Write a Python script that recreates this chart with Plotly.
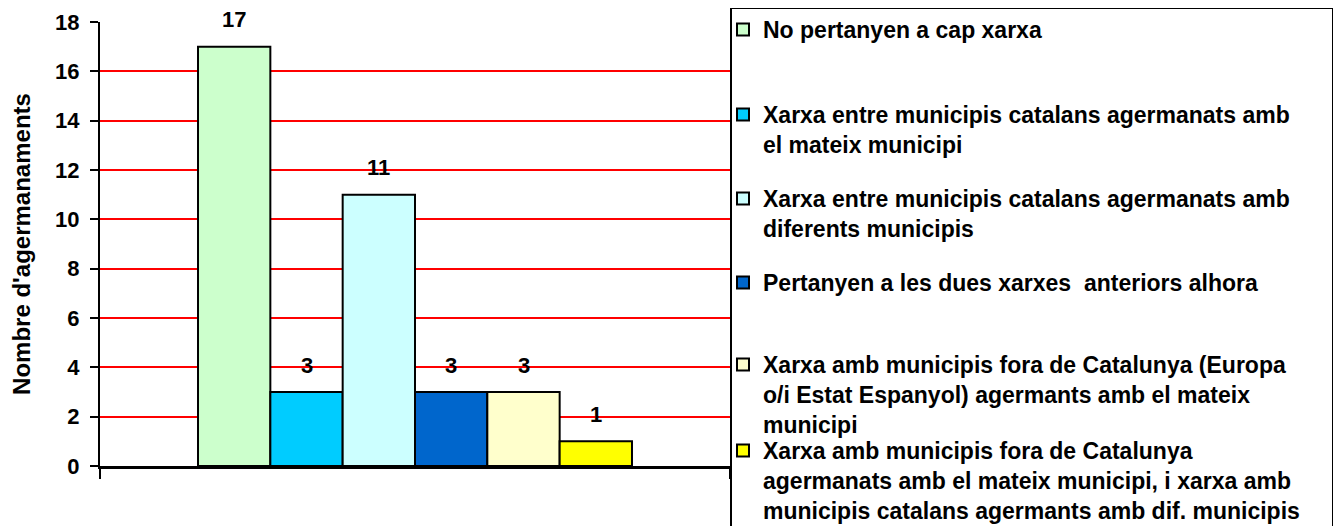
import plotly.graph_objects as go

# ---------------------------------------------------------
# Data
# ---------------------------------------------------------
categories = [
    "No pertanyen a cap xarxa",
    "Xarxa entre municipis catalans agermanats amb<br>el mateix municipi",
    "Xarxa entre municipis catalans agermanats amb<br>diferents municipis",
    "Pertanyen a les dues xarxes  anteriors alhora",
    "Xarxa amb municipis fora de Catalunya (Europa<br>o/i Estat Espanyol) agermants amb el mateix<br>municipi",
    "Xarxa amb municipis fora de Catalunya<br>agermanats amb el mateix municipi, i xarxa amb<br>municipis catalans agermants amb dif. municipis",
]
values = [17, 3, 11, 3, 3, 1]
colors = ["#CCFFCC", "#00CCFF", "#CCFFFF", "#0066CC", "#FFFFCC", "#FFFF00"]
y_ticks = [0, 2, 4, 6, 8, 10, 12, 14, 16, 18]

FONT = "Liberation Sans, Arial, sans-serif"

# ---------------------------------------------------------
# Geometry (screen px; the page body adds an 8px margin)
# ---------------------------------------------------------
BODY = 8
W, H = 1341 - BODY, 526 - BODY
PLOT_L, PLOT_R, PLOT_T, PLOT_B = 100, 730, 22, 466
PW, PH = PLOT_R - PLOT_L, PLOT_B - PLOT_T


def fx(px):
    return (px - PLOT_L) / PW


def fy(py):
    return (PLOT_B - py) / PH


# first-line centre of each legend entry (uneven slots, like the original)
legend_rows = [27, 112, 196, 280, 362, 448]
LEG_X = 723

fig = go.Figure()

for i, (name, v, c) in enumerate(zip(categories, values, colors)):
    lg = "legend" if i == 0 else f"legend{i + 1}"
    fig.add_trace(
        go.Bar(
            x=[i],
            y=[v],
            width=1,
            name=name,
            legend=lg,
            marker=dict(color=c, line=dict(color="black", width=2)),
        )
    )
    fig.add_annotation(
        x=i, y=v, text=str(v), showarrow=False,
        yanchor="middle", yshift=27,
        font=dict(family=FONT, size=22, color="black", weight="bold"),
    )
    fig.update_layout(**{
        lg: dict(
            x=fx(LEG_X),
            xanchor="left",
            y=fy(legend_rows[i] - 19),
            yanchor="top",
            bgcolor="rgba(0,0,0,0)",
            borderwidth=0,
            valign="top",
            font=dict(family=FONT, size=23, color="black", weight="bold"),
        )
    })

fig.update_layout(
    width=W,
    height=H,
    plot_bgcolor="white",
    paper_bgcolor="white",
    font=dict(family=FONT, color="black", weight="bold"),
    margin=dict(l=PLOT_L - BODY, r=W - (PLOT_R - BODY),
                t=PLOT_T - BODY, b=H - (PLOT_B - BODY), autoexpand=False),
    barmode="overlay",
    showlegend=True,
)

# legend frame
fig.add_shape(
    type="rect", xref="paper", yref="paper",
    x0=fx(731), x1=fx(1333), y0=fy(560), y1=fy(8),
    line=dict(color="black", width=2),
)

fig.update_yaxes(
    range=[0, 18],
    tickvals=y_ticks,
    automargin=False,
    showgrid=True,
    gridcolor="#FF0000",
    gridwidth=2,
    zeroline=False,
    showline=True,
    linecolor="black",
    linewidth=2,
    ticks="outside",
    ticklen=8,
    tickwidth=2,
    tickcolor="black",
    ticklabelstandoff=6,
    tickfont=dict(family=FONT, size=22, color="black", weight="bold"),
    title=dict(
        text="Nombre d'agermanaments",
        standoff=18,
        font=dict(family=FONT, size=24, color="black", weight="bold"),
    ),
)

fig.update_xaxes(
    range=[-1.855, 6.855],
    tickvals=[-1.855, 6.855],
    automargin=False,
    showticklabels=False,
    showgrid=False,
    zeroline=False,
    showline=True,
    linecolor="black",
    linewidth=3,
    ticks="outside",
    ticklen=10,
    tickwidth=2,
    tickcolor="black",
)

# red right-hand border of the plot area
fig.update_layout(
    yaxis2=dict(
        overlaying="y",
        side="right",
        range=[0, 18],
        automargin=False,
        showline=True,
        linecolor="#FF0000",
        linewidth=2,
        showticklabels=False,
        showgrid=False,
        zeroline=False,
        ticks="",
    )
)
fig.add_trace(go.Scatter(x=[], y=[], yaxis="y2", showlegend=False))

fig.write_html("out.html")
